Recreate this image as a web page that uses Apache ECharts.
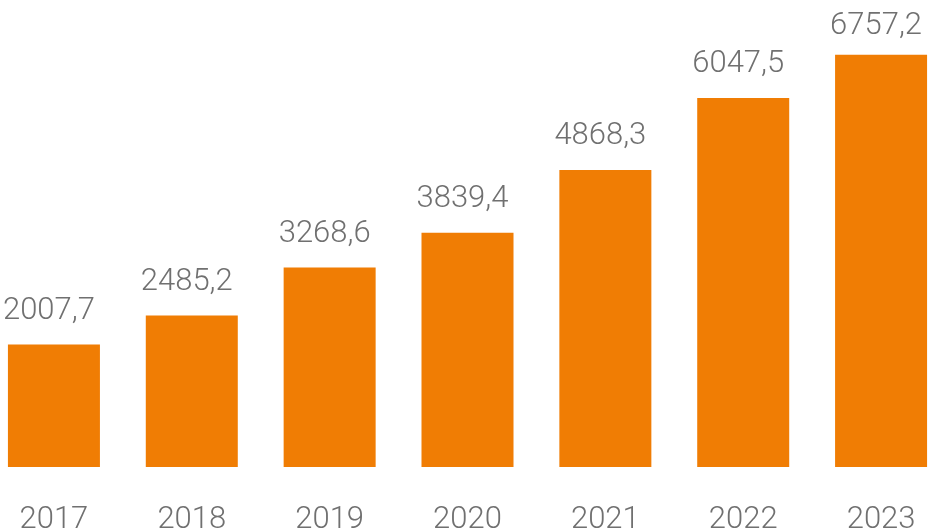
<!DOCTYPE html>
<html><head><meta charset="utf-8">
<script src="https://cdn.jsdelivr.net/npm/echarts@6/dist/echarts.min.js"></script>
<style>html,body{margin:0;padding:0;background:#fff;overflow:hidden}#c{width:965px;height:532px;margin-left:-15px}</style>
</head><body><div id="c"></div>
<script>
const categories = ['2017','2018','2019','2020','2021','2022','2023'];
const values = [2007.7, 2485.2, 3268.6, 3839.4, 4868.3, 6047.5, 6757.2];

const chart = echarts.init(document.getElementById('c'));
const last = values.length - 1;
chart.setOption({
  animation: false,
  grid: { left: 0, right: 0, top: 40, bottom: 65, containLabel: false, outerBoundsMode: 'none' },
  xAxis: {
    type: 'category', data: categories,
    axisLine: { show: false }, axisTick: { show: false },
    axisLabel: { color: '#707070', fontSize: 31, fontFamily: 'Roboto', fontWeight: 300, margin: 38 }
  },
  yAxis: { type: 'value', min: 0, max: 7000, show: false, splitLine: { show: false } },
  series: [{
    type: 'bar',
    data: values.map((v, i) => i === last ? { value: v, label: { distance: 13 } } : v),
    barWidth: 92,
    itemStyle: { color: '#F07D04' },
    label: {
      show: true, position: 'top', distance: 18, offset: [-5, 0],
      color: '#707070', fontSize: 31, fontFamily: 'Roboto', fontWeight: 300,
      formatter: p => p.value.toFixed(1).replace('.', ',')
    }
  }]
});
</script></body></html>
